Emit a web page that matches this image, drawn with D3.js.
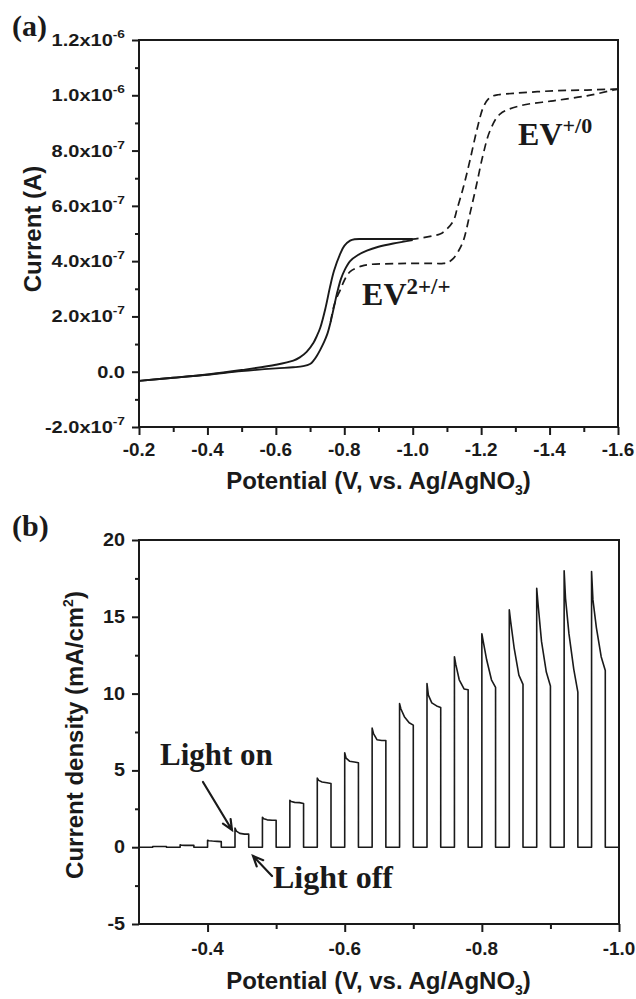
<!DOCTYPE html>
<html>
<head>
<meta charset="utf-8">
<script src="https://cdn.jsdelivr.net/npm/d3@7"></script>
<style>
  body { margin: 0; background: #fff; }
  svg { display: block; }
  .sans { font-family: "Liberation Sans", Arial, sans-serif; font-weight: bold; fill: #1a1a1a; }
  .serif { font-family: "Liberation Serif", "Times New Roman", serif; font-weight: bold; fill: #1a1a1a; }
</style>
</head>
<body>
<svg id="fig" width="636" height="999"></svg>
<script>
// ---------- (a) cyclic voltammograms (current in units of 1e-7 A) ----------
const cvSolidFwdV = [-0.2, -0.3, -0.4, -0.5, -0.6, -0.65, -0.68, -0.70, -0.71, -0.72, -0.73, -0.74, -0.75, -0.76, -0.77, -0.78, -0.79, -0.80, -0.817, -0.84, -0.866, -0.90, -0.943, -1.0];
const cvSolidFwdI = [-0.33, -0.22, -0.11, 0.02, 0.12, 0.16, 0.20, 0.28, 0.40, 0.58, 0.80, 1.05, 1.35, 1.80, 2.35, 2.90, 3.35, 3.65, 4.00, 4.22, 4.38, 4.52, 4.64, 4.76];

const cvSolidRevV = [-1.0, -0.95, -0.9, -0.85, -0.83, -0.817, -0.80, -0.788, -0.77, -0.758, -0.745, -0.73, -0.72, -0.71, -0.69, -0.67, -0.651, -0.6, -0.5, -0.4, -0.3, -0.2];
const cvSolidRevI = [4.80, 4.80, 4.80, 4.80, 4.79, 4.74, 4.55, 4.26, 3.65, 3.05, 2.30, 1.60, 1.30, 1.05, 0.72, 0.52, 0.40, 0.25, 0.06, -0.10, -0.22, -0.33];

const cvDashFwdV = [-0.76, -0.768, -0.777, -0.788, -0.80, -0.817, -0.85, -0.875, -0.95, -1.0, -1.05, -1.09, -1.105, -1.119, -1.133, -1.148, -1.167, -1.187, -1.206, -1.226, -1.255, -1.314, -1.411, -1.509, -1.587, -1.6];
const cvDashFwdI = [1.80, 2.30, 2.65, 2.95, 3.30, 3.62, 3.82, 3.88, 3.91, 3.92, 3.92, 3.92, 3.97, 4.10, 4.35, 4.74, 5.70, 6.79, 7.87, 8.72, 9.32, 9.62, 9.80, 9.98, 10.19, 10.22];

const cvDashRevV = [-1.6, -1.587, -1.509, -1.411, -1.294, -1.25, -1.236, -1.22, -1.206, -1.187, -1.167, -1.148, -1.13, -1.119, -1.10, -1.08, -1.06, -1.03, -1.0, -0.97];
const cvDashRevI = [10.22, 10.22, 10.19, 10.16, 10.07, 10.02, 9.98, 9.85, 9.56, 8.72, 7.63, 6.67, 5.90, 5.46, 5.16, 4.98, 4.92, 4.85, 4.80, 4.78];

const aXMajor = [-0.2, -0.4, -0.6, -0.8, -1.0, -1.2, -1.4, -1.6];
const aXMinor = [-0.3, -0.5, -0.7, -0.9, -1.1, -1.3, -1.5];
const aXLabels = ["-0.2", "-0.4", "-0.6", "-0.8", "-1.0", "-1.2", "-1.4", "-1.6"];
const aYMajor = [-2, 0, 2, 4, 6, 8, 10, 12];
const aYMinor = [-1, 1, 3, 5, 7, 9, 11];
const aYMantissa = ["-2.0", "0.0", "2.0", "4.0", "6.0", "8.0", "1.0", "1.2"];
const aYExponent = ["-7", "", "-7", "-7", "-7", "-7", "-6", "-6"];

// ---------- (b) chopped-light photocurrent ----------
const pulseOnsetV = [-0.32, -0.36, -0.40, -0.44, -0.48, -0.52, -0.56, -0.60, -0.64, -0.68, -0.72, -0.76, -0.80, -0.84, -0.88, -0.92, -0.96];
const pulseOffsetV = [0, 0.002, 0.007, 0.014, 0.02];
const pulseJ = [
  [0.05, 0.05, 0.05, 0.05, 0.05],
  [0.15, 0.13, 0.12, 0.12, 0.12],
  [0.45, 0.42, 0.40, 0.38, 0.36],
  [1.25, 1.05, 0.90, 0.85, 0.85],
  [1.95, 1.85, 1.78, 1.75, 1.75],
  [3.05, 2.97, 2.92, 2.90, 2.85],
  [4.50, 4.35, 4.25, 4.20, 4.15],
  [6.15, 5.80, 5.60, 5.55, 5.50],
  [7.75, 7.40, 7.00, 6.95, 6.95],
  [9.35, 9.00, 8.50, 8.10, 7.95],
  [10.65, 9.90, 9.40, 9.20, 9.10],
  [12.40, 11.90, 10.90, 10.30, 10.25],
  [13.90, 13.40, 12.20, 10.90, 10.40],
  [15.45, 14.70, 13.00, 11.20, 10.60],
  [16.85, 15.80, 13.40, 11.40, 10.50],
  [18.00, 16.20, 13.90, 11.60, 10.10],
  [17.95, 16.10, 14.30, 12.40, 11.50]
];
const bXMajor = [-0.4, -0.6, -0.8, -1.0];
const bXMinor = [-0.5, -0.7, -0.9];
const bXLabels = ["-0.4", "-0.6", "-0.8", "-1.0"];
const bYMajor = [-5, 0, 5, 10, 15, 20];
const bYMinor = [-2.5, 2.5, 7.5, 12.5, 17.5];
const bYLabels = ["-5", "0", "5", "10", "15", "20"];

// ---------- drawing ----------
const svg = d3.select("#fig");
const ink = "#1a1a1a";

const boxA = { left: 139, right: 618, top: 40, bottom: 427 };
const boxB = { left: 139, right: 619, top: 540, bottom: 924 };

const xA = d3.scaleLinear().domain([-0.2, -1.6]).range([boxA.left, boxA.right]);
const yA = d3.scaleLinear().domain([-2, 12]).range([boxA.bottom, boxA.top]);
const xB = d3.scaleLinear().domain([-0.3, -1.0]).range([boxB.left, boxB.right]);
const yB = d3.scaleLinear().domain([-5, 20]).range([boxB.bottom, boxB.top]);

function ticks(g, axisFn, scale, values, size) {
  const ax = axisFn(scale).tickValues(values).tickSize(size).tickSizeOuter(0).tickFormat("");
  g.call(ax);
  g.select(".domain").remove();
  g.selectAll(".tick line").attr("stroke", ink).attr("stroke-width", 2);
}

function frame(box, x, y, xMaj, xMin, yMaj, yMin) {
  const gx1 = svg.append("g").attr("transform", `translate(0,${box.bottom})`);
  ticks(gx1, d3.axisBottom, x, xMaj, 8);
  const gx2 = svg.append("g").attr("transform", `translate(0,${box.bottom})`);
  ticks(gx2, d3.axisBottom, x, xMin, 5);
  const gy1 = svg.append("g").attr("transform", `translate(${box.left},0)`);
  ticks(gy1, d3.axisLeft, y, yMaj, 7);
  const gy2 = svg.append("g").attr("transform", `translate(${box.left},0)`);
  ticks(gy2, d3.axisLeft, y, yMin, 4);
  svg.append("rect")
    .attr("x", box.left).attr("y", box.top)
    .attr("width", box.right - box.left).attr("height", box.bottom - box.top)
    .attr("fill", "none").attr("stroke", ink).attr("stroke-width", 2);
}

// ----- panel (a)
frame(boxA, xA, yA, aXMajor, aXMinor, aYMajor, aYMinor);

const lineA = d3.line().x(d => xA(d[0])).y(d => yA(d[1])).curve(d3.curveCatmullRom.alpha(0.5));
const zipA = (vs, is) => vs.map((v, i) => [v, is[i]]);

svg.append("path").attr("d", lineA(zipA(cvDashFwdV, cvDashFwdI)))
  .attr("fill", "none").attr("stroke", ink).attr("stroke-width", 1.7).attr("stroke-dasharray", "8,5");
svg.append("path").attr("d", lineA(zipA(cvDashRevV, cvDashRevI)))
  .attr("fill", "none").attr("stroke", ink).attr("stroke-width", 1.7).attr("stroke-dasharray", "8,5");
svg.append("path").attr("d", lineA(zipA(cvSolidFwdV, cvSolidFwdI)))
  .attr("fill", "none").attr("stroke", ink).attr("stroke-width", 1.9);
svg.append("path").attr("d", lineA(zipA(cvSolidRevV, cvSolidRevI)))
  .attr("fill", "none").attr("stroke", ink).attr("stroke-width", 1.9);

// x tick labels (a)
aXMajor.forEach((v, i) => {
  svg.append("text").attr("class", "sans")
    .attr("transform", `translate(${xA(v)},456) scale(1.05,1)`)
    .attr("text-anchor", "middle").attr("font-size", 18).text(aXLabels[i]);
});
// y tick labels (a) with power-of-ten notation
aYMajor.forEach((v, i) => {
  const t = svg.append("text").attr("class", "sans")
    .attr("transform", `translate(125,${yA(v) + 6}) scale(1.25,1)`)
    .attr("text-anchor", "end").attr("font-size", 16);
  if (aYExponent[i]) {
    t.append("tspan").text(aYMantissa[i] + "x10");
    t.append("tspan").attr("font-size", 11).attr("dy", -8).text(aYExponent[i]);
  } else {
    t.text(aYMantissa[i]);
  }
});

// axis titles (a)
function potentialTitle(yBase) {
  const t = svg.append("text").attr("class", "sans")
    .attr("x", (boxA.left + boxA.right) / 2).attr("y", yBase)
    .attr("text-anchor", "middle").attr("font-size", 24);
  t.append("tspan").text("Potential (V, vs. Ag/AgNO");
  t.append("tspan").attr("font-size", 14).attr("dy", 6).text("3");
  t.append("tspan").attr("dy", -6).text(")");
}
potentialTitle(489);
svg.append("text").attr("class", "sans")
  .attr("transform", `translate(41,229) rotate(-90)`)
  .attr("text-anchor", "middle").attr("font-size", 24).text("Current (A)");

svg.append("text").attr("class", "serif").attr("x", 12).attr("y", 36)
  .attr("font-size", 30).text("(a)");

// peak labels
const ev1 = svg.append("text").attr("class", "serif")
  .attr("x", xA(-1.308)).attr("y", yA(8.2)).attr("font-size", 32);
ev1.append("tspan").text("EV");
ev1.append("tspan").attr("font-size", 22).attr("dy", -12).text("+/0");
const ev2 = svg.append("text").attr("class", "serif")
  .attr("x", xA(-0.852)).attr("y", yA(2.41)).attr("font-size", 32);
ev2.append("tspan").text("EV");
ev2.append("tspan").attr("font-size", 23).attr("dy", -11).text("2+/+");

// ----- panel (b)
frame(boxB, xB, yB, bXMajor, bXMinor, bYMajor, bYMinor);

// build the chopped-light trace: dark baseline, then each illuminated step
const trace = [[-0.3, 0]];
pulseOnsetV.forEach((v0, k) => {
  trace.push([v0, 0]);
  pulseOffsetV.forEach((dv, j) => trace.push([v0 - dv, pulseJ[k][j]]));
  trace.push([v0 - pulseOffsetV[pulseOffsetV.length - 1], 0]);
});
trace.push([-1.0, 0]);

const lineB = d3.line().x(d => xB(d[0])).y(d => yB(d[1]));
svg.append("path").attr("d", lineB(trace))
  .attr("fill", "none").attr("stroke", ink).attr("stroke-width", 1.6).attr("stroke-linejoin", "round");

bXMajor.forEach((v, i) => {
  svg.append("text").attr("class", "sans")
    .attr("transform", `translate(${xB(v)},955) scale(1.05,1)`)
    .attr("text-anchor", "middle").attr("font-size", 18).text(bXLabels[i]);
});
bYMajor.forEach((v, i) => {
  svg.append("text").attr("class", "sans")
    .attr("transform", `translate(125,${yB(v) + 6}) scale(1.1,1)`)
    .attr("text-anchor", "end").attr("font-size", 18).text(bYLabels[i]);
});

potentialTitle(989);
const yt = svg.append("text").attr("class", "sans")
  .attr("transform", `translate(83,735) rotate(-90)`)
  .attr("text-anchor", "middle").attr("font-size", 24);
yt.append("tspan").text("Current density (mA/cm");
yt.append("tspan").attr("font-size", 14).attr("dy", -10).text("2");
yt.append("tspan").attr("dy", 10).text(")");

svg.append("text").attr("class", "serif").attr("x", 12).attr("y", 536)
  .attr("font-size", 30).text("(b)");

// light on / off annotations with arrows
svg.append("text").attr("class", "serif").attr("x", xB(-0.3306)).attr("y", yB(5.35))
  .attr("font-size", 31).text("Light on");
svg.append("text").attr("class", "serif").attr("x", xB(-0.4954)).attr("y", yB(-2.66))
  .attr("font-size", 32).text("Light off");

function arrow(x1, y1, x2, y2) {
  const ang = Math.atan2(y2 - y1, x2 - x1);
  const L = 11, spread = 0.42;
  const h1 = [x2 - L * Math.cos(ang - spread), y2 - L * Math.sin(ang - spread)];
  const h2 = [x2 - L * Math.cos(ang + spread), y2 - L * Math.sin(ang + spread)];
  svg.append("path")
    .attr("d", `M${x1},${y1}L${x2},${y2}M${h1[0]},${h1[1]}L${x2},${y2}L${h2[0]},${h2[1]}`)
    .attr("fill", "none").attr("stroke", ink).attr("stroke-width", 2.2).attr("stroke-linecap", "round");
}
arrow(xB(-0.3933), yB(4.245), xB(-0.4356), yB(1.12));
arrow(xB(-0.494), yB(-1.875), xB(-0.4663), yB(-0.573));
</script>
</body>
</html>
